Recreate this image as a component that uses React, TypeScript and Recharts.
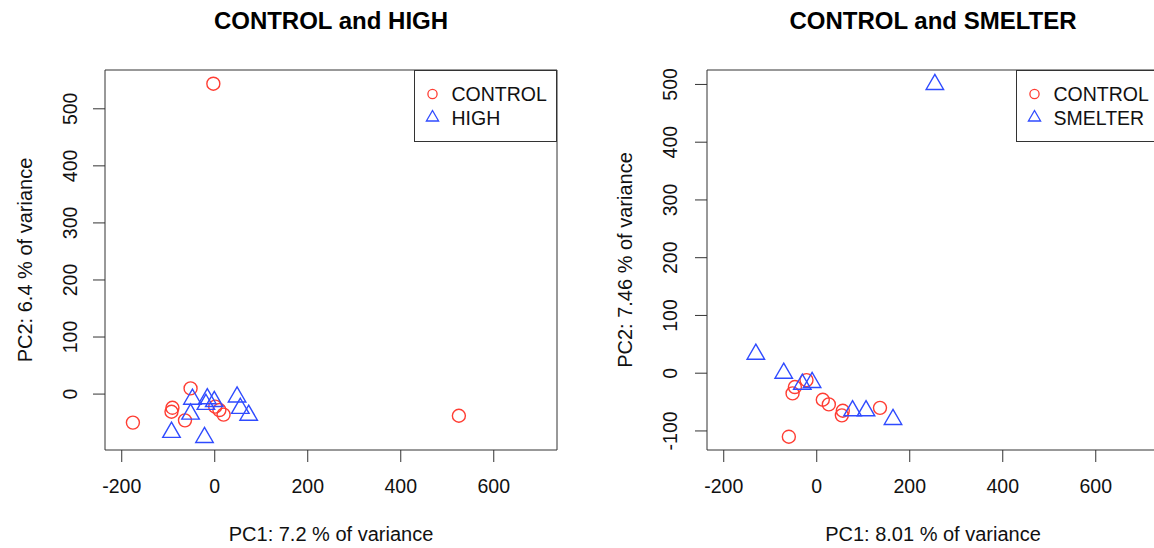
import React from "react";
import {
  ScatterChart,
  Scatter,
  XAxis,
  YAxis,
  ReferenceArea,
  Legend,
  Label,
} from "recharts";

// ---------- data ----------
const xTicks = [-200, 0, 200, 400, 600];
const xDomain: [number, number] = [-236, 736];

// Panel 1: CONTROL and HIGH
const p1ControlX = [-3, 525, -176, -52, -91, -93, -64, 1, 10, 19];
const p1ControlY = [544, -38, -50, 10, -24, -31, -46, -22, -28, -36];
const p1HighX = [-48, -16, -1, -19, 48, -52, 55, 73, -93, -22];
const p1HighY = [-9, -8, -13, -18, -5, -35, -25, -37, -67, -76];
const p1YTicks = [0, 100, 200, 300, 400, 500];
const p1YDomain: [number, number] = [-98, 568];

// Panel 2: CONTROL and SMELTER
const p2ControlX = [-47, -52, -22, 13, 26, 56, 54, 136, -60];
const p2ControlY = [-24, -35, -12, -46, -54, -65, -73, -60, -110];
const p2SmelterX = [254, -131, -71, -31, -10, 77, 106, 164];
const p2SmelterY = [500, 33, 0, -19, -16, -65, -65, -80];
const p2YTicks = [-100, 0, 100, 200, 300, 400, 500];
const p2YDomain: [number, number] = [-133, 525];

const RED = "#FF3D33";
const BLUE = "#2F4BFF";
const INK = "#333333";
const FONT = '"Liberation Sans", Arial, Helvetica, sans-serif';
const TICK_FS = 19.5;
const LABEL_FS = 20;

const toPts = (xs: number[], ys: number[]) => xs.map((x, i) => ({ x, y: ys[i] }));

const CircleShape = (props: any) => {
  const { cx, cy } = props;
  if (cx == null || cy == null) return null;
  return <circle cx={cx} cy={cy} r={6.5} fill="none" stroke={RED} strokeWidth={1.4} />;
};

const TriShape = (props: any) => {
  const { cx, cy } = props;
  if (cx == null || cy == null) return null;
  const r = 10.1;
  const hw = r * 0.866;
  const d = `M${cx},${cy - r} L${cx + hw},${cy + r / 2} L${cx - hw},${cy + r / 2} Z`;
  return <path d={d} fill="none" stroke={BLUE} strokeWidth={1.4} strokeLinejoin="miter" />;
};

const LegendBox = ({ second }: { second: string }) => (
  <div
    style={{
      width: 143,
      height: 72,
      border: `1px solid ${INK}`,
      boxSizing: "border-box",
      background: "#fff",
    }}
  >
    <svg width={141} height={70} style={{ display: "block" }}>
      <circle cx={17.5} cy={23} r={4.6} fill="none" stroke={RED} strokeWidth={1.3} />
      <text x={36.5} y={30} fontSize={TICK_FS} fontFamily={FONT} fill="#111">
        CONTROL
      </text>
      <path
        d={`M17.5,${46.5 - 7} L${17.5 + 6.1},${46.5 + 3.5} L${17.5 - 6.1},${46.5 + 3.5} Z`}
        fill="none"
        stroke={BLUE}
        strokeWidth={1.3}
      />
      <text x={36.5} y={54} fontSize={TICK_FS} fontFamily={FONT} fill="#111">
        {second}
      </text>
    </svg>
  </div>
);

type PanelProps = {
  width: number;
  yAxisWidth: number;
  controlX: number[];
  controlY: number[];
  otherX: number[];
  otherY: number[];
  otherName: string;
  yTicks: number[];
  yDomain: [number, number];
  title: string;
  xLabel: string;
  yLabel: string;
  tickBaseX: number;
  labelBaseX: number;
  legendLeft: number;
};

const Panel = (p: PanelProps) => {
  const controlData = toPts(p.controlX, p.controlY);
  const otherData = toPts(p.otherX, p.otherY);
  const plotLeft = p.yAxisWidth;
  const plotRight = p.width - 20;
  const centerX = (plotLeft + plotRight) / 2;

  const XTick = (t: any) => (
    <text x={t.x} y={493} textAnchor="middle" fontSize={TICK_FS} fontFamily={FONT} fill="#111">
      {t.payload.value}
    </text>
  );
  const YTick = (t: any) => (
    <text
      x={p.tickBaseX}
      y={t.y}
      transform={`rotate(-90, ${p.tickBaseX}, ${t.y})`}
      textAnchor="middle"
      fontSize={TICK_FS}
      fontFamily={FONT}
      fill="#111"
    >
      {t.payload.value}
    </text>
  );

  return (
    <div style={{ position: "relative", width: p.width, height: 548 }}>
      <ScatterChart
        width={p.width}
        height={548}
        margin={{ top: 70, right: 20, bottom: 0, left: 0 }}
      >
        <XAxis
          type="number"
          dataKey="x"
          domain={xDomain}
          ticks={xTicks}
          allowDataOverflow
          axisLine={false}
          tickSize={12}
          tickLine={{ stroke: INK, strokeWidth: 1 }}
          tick={XTick}
          height={98}
          interval={0}
        >
          <Label
            content={() => (
              <text x={centerX} y={541} textAnchor="middle" fontSize={LABEL_FS} fontFamily={FONT} fill="#111">
                {p.xLabel}
              </text>
            )}
          />
        </XAxis>
        <YAxis
          type="number"
          dataKey="y"
          domain={p.yDomain}
          ticks={p.yTicks}
          allowDataOverflow
          axisLine={false}
          tickSize={12}
          tickLine={{ stroke: INK, strokeWidth: 1 }}
          tick={YTick}
          width={p.yAxisWidth}
          interval={0}
        >
          <Label
            content={() => (
              <text
                x={p.labelBaseX}
                y={260}
                transform={`rotate(-90, ${p.labelBaseX}, 260)`}
                textAnchor="middle"
                fontSize={LABEL_FS}
                fontFamily={FONT}
                fill="#111"
              >
                {p.yLabel}
              </text>
            )}
          />
        </YAxis>
        <Scatter
          name="CONTROL"
          data={controlData}
          shape={CircleShape}
          isAnimationActive={false}
        />
        <Scatter
          name={p.otherName}
          data={otherData}
          shape={TriShape}
          isAnimationActive={false}
        />
        <ReferenceArea
          x1={xDomain[0]}
          x2={xDomain[1]}
          y1={p.yDomain[0]}
          y2={p.yDomain[1]}
          fill="none"
          fillOpacity={0}
          stroke={INK}
          strokeWidth={1}
          ifOverflow="visible"
        />
        <Legend
          layout="vertical"
          align="center"
          verticalAlign="middle"
          wrapperStyle={{ left: p.legendLeft, top: 70, width: 143, height: 72, margin: 0, padding: 0 }}
          content={() => <LegendBox second={p.otherName} />}
        />
      </ScatterChart>
      <svg
        width={p.width}
        height={40}
        style={{ position: "absolute", left: 0, top: 0, pointerEvents: "none" }}
      >
        <text
          x={centerX}
          y={28.5}
          textAnchor="middle"
          fontSize={24}
          fontWeight="bold"
          fontFamily={FONT}
          fill="#000"
        >
          {p.title}
        </text>
      </svg>
    </div>
  );
};

export default function App() {
  return (
    <div
      style={{
        position: "absolute",
        left: 0,
        top: 0,
        width: 1154,
        height: 548,
        overflow: "hidden",
        background: "#fff",
        fontFamily: FONT,
      }}
    >
      <div style={{ position: "absolute", left: 0, top: 0 }}>
        <Panel
          width={577}
          yAxisWidth={105}
          controlX={p1ControlX}
          controlY={p1ControlY}
          otherX={p1HighX}
          otherY={p1HighY}
          otherName="HIGH"
          yTicks={p1YTicks}
          yDomain={p1YDomain}
          title="CONTROL and HIGH"
          xLabel="PC1: 7.2 % of variance"
          yLabel="PC2: 6.4 % of variance"
          tickBaseX={77}
          labelBaseX={32}
          legendLeft={414}
        />
      </div>
      <div style={{ position: "absolute", left: 577, top: 0 }}>
        <Panel
          width={602}
          yAxisWidth={130}
          controlX={p2ControlX}
          controlY={p2ControlY}
          otherX={p2SmelterX}
          otherY={p2SmelterY}
          otherName="SMELTER"
          yTicks={p2YTicks}
          yDomain={p2YDomain}
          title="CONTROL and SMELTER"
          xLabel="PC1: 8.01 % of variance"
          yLabel="PC2: 7.46 % of variance"
          tickBaseX={100}
          labelBaseX={55}
          legendLeft={439}
        />
      </div>
    </div>
  );
}
